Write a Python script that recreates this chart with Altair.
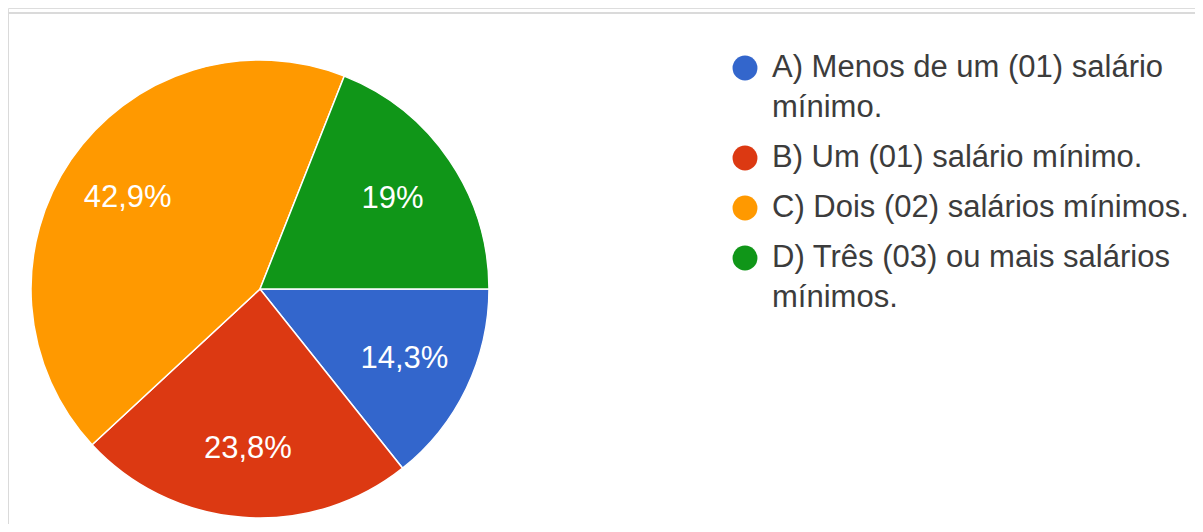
import math
import altair as alt
import pandas as pd

# ---- data ----
categories = ["A", "B", "C", "D"]
values = [14.3, 23.8, 42.9, 19.0]
colors = ["#3366cc", "#dc3912", "#ff9900", "#109618"]
legend_lines = [
    ["A) Menos de um (01) salário", "mínimo."],
    ["B) Um (01) salário mínimo."],
    ["C) Dois (02) salários mínimos."],
    ["D) Três (03) ou mais salários", "mínimos."],
]

pie_df = pd.DataFrame({
    "cat": categories,
    "value": values,
    "idx": list(range(len(categories))),
    "label": [f"{v:g}".replace(".", ",") + "%" for v in values],
})

rows = []
wrap = 0
for item, (cat, lines) in enumerate(zip(categories, legend_lines)):
    for j, line in enumerate(lines):
        if j > 0:
            wrap += 1
        rows.append({"cat": cat, "item": item, "wrap": wrap, "text": line, "first": j == 0})
leg_df = pd.DataFrame(rows)

FONT = "Liberation Sans"
color_scale = alt.Scale(domain=categories, range=colors)
theta_scale = alt.Scale(range=[math.pi / 2, math.pi / 2 + 2 * math.pi])

W, H = 1187, 516
CX, CY, R = 252, 281, 229

base = alt.Chart(pie_df).encode(
    theta=alt.Theta("value:Q", stack=True, scale=theta_scale),
    order=alt.Order("idx:Q"),
)

arcs = base.mark_arc(radius=R, stroke="white", strokeWidth=1.5).encode(
    color=alt.Color("cat:N", scale=color_scale, legend=None),
    x=alt.value(CX),
    y=alt.value(CY),
)

labels = base.mark_text(
    radius=R * 0.7, font=FONT, fontSize=31, color="white",
    align="center", baseline="middle",
).encode(
    text="label:N",
    x=alt.value(CX),
    y=alt.value(CY),
)

# legend: line height is 0.8 of the item spacing
pos_scale = alt.Scale(domain=[0, 4.6], range=[60, 290])

leg_base = alt.Chart(leg_df).transform_calculate(
    pos="datum.item + 0.8 * datum.wrap"
)

leg_dots = leg_base.transform_filter("datum.first").mark_point(
    filled=True, shape="circle", size=620, opacity=1
).encode(
    x=alt.value(737),
    y=alt.Y("pos:Q", scale=pos_scale, axis=None),
    color=alt.Color("cat:N", scale=color_scale, legend=None),
)

leg_text = leg_base.mark_text(
    font=FONT, fontSize=31, color="#3c3c3c", align="left", baseline="middle"
).encode(
    x=alt.value(764),
    y=alt.Y("pos:Q", scale=pos_scale, axis=None),
    text="text:N",
)

border_top = alt.Chart(pie_df).mark_rule(color="#dadada", strokeWidth=2).encode(
    x=alt.value(0), x2=alt.value(W), y=alt.value(5)
)
border_left = alt.Chart(pie_df).mark_rule(color="#dadada", strokeWidth=2).encode(
    x=alt.value(0), y=alt.value(5), y2=alt.value(H)
)

chart = alt.layer(
    border_top, border_left, arcs, labels, leg_dots, leg_text
).properties(
    width=W, height=H, padding=0, autosize="none"
).configure_view(stroke=None).configure(background="white")

chart.save("out.html", embed_options={"renderer": "svg", "actions": False})
